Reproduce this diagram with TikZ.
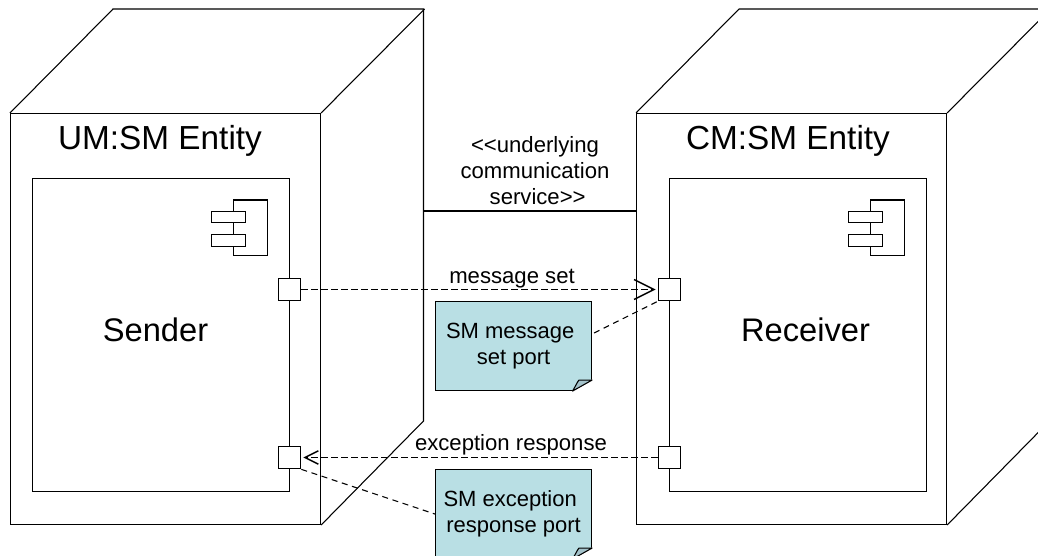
\documentclass[tikz,border=0pt]{standalone}
\usepackage{fontspec}
\setmainfont{Liberation Sans}
\usetikzlibrary{arrows.meta,positioning}

\definecolor{notefill}{HTML}{B9DFE4}
\definecolor{foldfill}{HTML}{A3C2CA}

\tikzset{%
  % Specifications for style of nodes:
         front/.style = {rectangle, draw = black, line width=0.8pt, minimum width=232.5pt, minimum height=308.25pt, anchor=north west, inner sep=0pt},
         inner/.style = {rectangle, draw = black, line width=0.8pt, minimum width=192.75pt, minimum height=234.75pt, anchor=north west, inner sep=0pt},
          port/.style = {rectangle, draw = black, fill=white, line width=0.8pt, minimum width=17pt, minimum height=17pt, inner sep=0pt},
       partbox/.style = {rectangle, draw = black, fill=white, line width=0.8pt, minimum width=25.25pt, minimum height=8.5pt, inner sep=0pt},
          note/.style = {rectangle, draw = black, fill=notefill, line width=0.8pt, minimum width=117pt, minimum height=66.75pt, anchor=north west, inner sep=0pt, align=center, font=\fontsize{16.5}{19.5}\selectfont},
         title/.style = {font=\fontsize{25}{30}\selectfont, inner sep=0pt},
      partname/.style = {font=\fontsize{24.5}{30}\selectfont, inner sep=0pt},
      linktext/.style = {font=\fontsize{16.6}{19.8}\selectfont, inner sep=0pt, align=center},
          edge/.style = {line width=0.8pt},
      dashline/.style = {line width=1.1pt, dash pattern=on 5.25pt off 2.25pt},
      dashnote/.style = {line width=0.8pt, dash pattern=on 4.5pt off 3.5pt},
}

% cut off and fold the lower right corner of a note
\newcommand{\foldnote}[1]{
    \begin{scope}[shift={(#1.south east)}]
        \fill[white] (0.7,0.7) -- (0.7,-12) -- (-21,0.7) -- cycle;
        \draw[edge, fill=foldfill, line join=round] (-19.5,0) .. controls (-16,-6) and (-14,-10.5) .. (-13,-11) .. controls (-9,-11) and (-4,-11) .. (0,-11) -- cycle;
    \end{scope}
}

% component icon, the tag is the name of its corner
\newcommand{\parts}[1]{
    \draw[edge] (#1) rectangle ++(34,55.5);
    \node (#1a) [partbox, anchor=north west] at ([shift={(-22.25,11)}]#1) {};
    \node (#1b) [partbox, below=8.25pt of #1a] {};
}

\begin{document}
\begin{tikzpicture}[x=0.75pt, y=-0.75pt]
    \useasboundingbox (0,0) rectangle (1038,556);
    \clip (0,0) rectangle (1038,556);

    % Draw boxes
    \node (umfront)  [front] at (10,113)  {};
    \node (cmfront)  [front] at (636,113) {};
    \node (sender)   [inner] at (32,178)  {};
    \node (receiver) [inner] at (669,178) {};

    \node (umtitle)  [title] at (160,141) {UM:SM Entity};
    \node (cmtitle)  [title] at (788,141) {CM:SM Entity};
    \node (sendname) [partname]  at (155.5,330) {Sender};
    \node (recvname) [partname]  at (805.5,330) {Receiver};

    % Depth of the boxes
    \draw[edge] (umfront.north west) -- ++(103,-104) -- ++(310.5,0) -- ++(0,412) -- (umfront.south east);
    \draw[edge] (umfront.north east) -- ++(103.5,-104);
    \draw[edge] (cmfront.north west) -- ++(103,-104) -- ++(310.5,0) -- ++(0,412) -- (cmfront.south east);
    \draw[edge] (cmfront.north east) -- ++(103.5,-104);

    % Draw icons
    \coordinate (umicon) at (233.25,200);
    \coordinate (cmicon) at (870.25,200);
    \parts{umicon}
    \parts{cmicon}

    % Draw ports
    \node (sendset)  [port] at (289.5,289.5) {};
    \node (sendexc)  [port] at (289.5,457.5) {};
    \node (recvset)  [port] at (669.5,289.5) {};
    \node (recvexc)  [port] at (669.5,457.5) {};

    % Draw notes
    \node (setnote)  [note] at (435,301) {SM message\hspace*{5pt}\\set port};
    \node (excnote)  [note] at (435,469) {SM exception\hspace*{5pt}\\response port};
    \foldnote{setnote}
    \foldnote{excnote}

    % Draw arrows
    \coordinate (umback) at (423.5,211);
    \coordinate (setout) at ([shift={(2,32)}]setnote.north east);
    \draw[edge]               (umback) -- (cmfront.west |- umback);
    \draw[dashline, -{Straight Barb[length=15pt, width=15pt]}, shorten >=1.5pt] (sendset) -- (recvset);
    \draw[dashline, -{Straight Barb[length=10pt, width=10pt]}, shorten >=1.5pt] (recvexc) -- (sendexc);
    \draw[dashnote]           (setout) -- (recvset.south west);
    \draw[dashnote]           (sendexc.south east) -- (excnote.west);

    % Draw labels
    \node (service)  [linktext] at (535,170.5) {<{}<underlying\\communication\\\hspace*{4pt}service>{}>};
    \node (setlabel) [linktext] at (512,279) {message set};
    \node (exclabel) [linktext] at (511,445) {exception response};
\end{tikzpicture}
\end{document}
